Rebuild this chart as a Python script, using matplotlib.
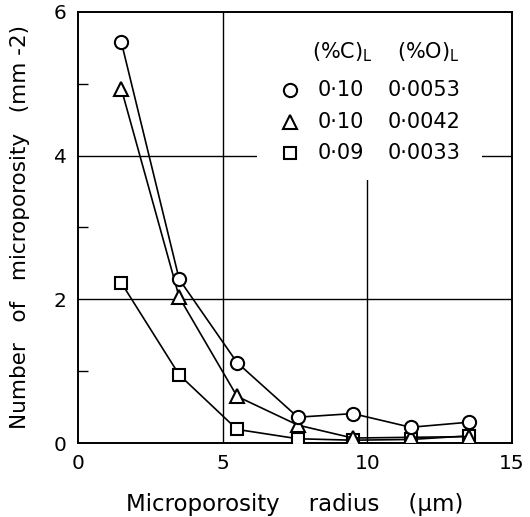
import matplotlib
matplotlib.use("Agg")
import matplotlib.pyplot as plt
from matplotlib.patches import Rectangle

# Data
radius = [1.5, 3.5, 5.5, 7.6, 9.5, 11.5, 13.5]
circle_vals = [5.58, 2.28, 1.12, 0.36, 0.41, 0.22, 0.29]
triangle_vals = [4.93, 2.03, 0.65, 0.25, 0.07, 0.08, 0.09]
square_vals = [2.23, 0.95, 0.19, 0.06, 0.04, 0.05, 0.10]
pct_C = ["0·10", "0·10", "0·09"]
pct_O = ["0·0053", "0·0042", "0·0033"]
xticks = [0, 5, 10, 15]
yticks = [0, 2, 4, 6]
xtick_labels = ["0", "5", "10", "15"]
ytick_labels = ["0", "2", "4", "6"]

plt.rcParams['font.family'] = ['DejaVu Sans']
plt.rcParams['xtick.labelsize'] = 14.5
plt.rcParams['ytick.labelsize'] = 14.5
fig = plt.figure(figsize=(5.30, 5.17), dpi=100)
ax = fig.add_axes([0.147, 0.143, 0.819, 0.834])

ax.set_xlim(0, 15)
ax.set_ylim(0, 6)
ax.set_xticks(xticks)
ax.set_xticklabels(xtick_labels, fontsize=14.5)
ax.set_yticks(yticks)
ax.set_yticklabels(ytick_labels, fontsize=14.5)
ax.set_yticks([1, 3, 5], minor=True)
ax.tick_params(axis='both', which='both', direction='in', width=1.0)
ax.tick_params(axis='y', which='minor', length=7)
ax.tick_params(axis='both', which='major', length=0, pad=8)
for s in ax.spines.values():
    s.set_linewidth(1.4)

for xv in [5, 10]:
    ax.axvline(xv, color='black', lw=1.0, zorder=1)
for yv in [2, 4]:
    ax.axhline(yv, color='black', lw=1.0, zorder=1)

# White region behind the legend
ax.add_patch(Rectangle((0.413, 0.61), 0.518, 0.39, transform=ax.transAxes,
                       facecolor='white', edgecolor='none', zorder=2))

mk = dict(color='black', lw=1.2, markerfacecolor='white', markeredgecolor='black',
          markeredgewidth=1.5, zorder=3)
ax.plot(radius, square_vals, marker='s', markersize=8.5, **mk)
ax.plot(radius, triangle_vals, marker='^', markersize=10.5, **mk)
ax.plot(radius, circle_vals, marker='o', markersize=9.5, **mk)

# Legend (manual table)
def ax_xy(px, py):
    return ((px - 78) / 434.0, (443 - py) / 431.0)

hx1, hy = ax_xy(342, 52)
hx2, _ = ax_xy(428, 52)
ax.text(hx1, hy, "(%C)$_\\mathrm{L}$", transform=ax.transAxes, ha='center', va='center',
        fontsize=15, zorder=4)
ax.text(hx2, hy, "(%O)$_\\mathrm{L}$", transform=ax.transAxes, ha='center', va='center',
        fontsize=15, zorder=4)
markers = [('o', 9.5), ('^', 10.5), ('s', 8.5)]
rows_y = [90, 122, 153]
for (m, ms), c, o, py in zip(markers, pct_C, pct_O, rows_y):
    mx, my = ax_xy(290, py)
    ax.plot([mx], [my], marker=m, markersize=ms, markerfacecolor='white',
            markeredgecolor='black', markeredgewidth=1.5, linestyle='none',
            transform=ax.transAxes, zorder=4, clip_on=False)
    cx, _ = ax_xy(341, py)
    ox, _ = ax_xy(424, py)
    ax.text(cx, my, c, transform=ax.transAxes, ha='center', va='center', fontsize=15, zorder=4)
    ax.text(ox, my, o, transform=ax.transAxes, ha='center', va='center', fontsize=15, zorder=4)

ax.set_xlabel("Microporosity    radius    (µm)", fontsize=16.5, labelpad=14)
ax.set_ylabel("Number   of   microporosity   (mm -2)", fontsize=15.5, labelpad=17)

fig.savefig("out.png", dpi=100)
